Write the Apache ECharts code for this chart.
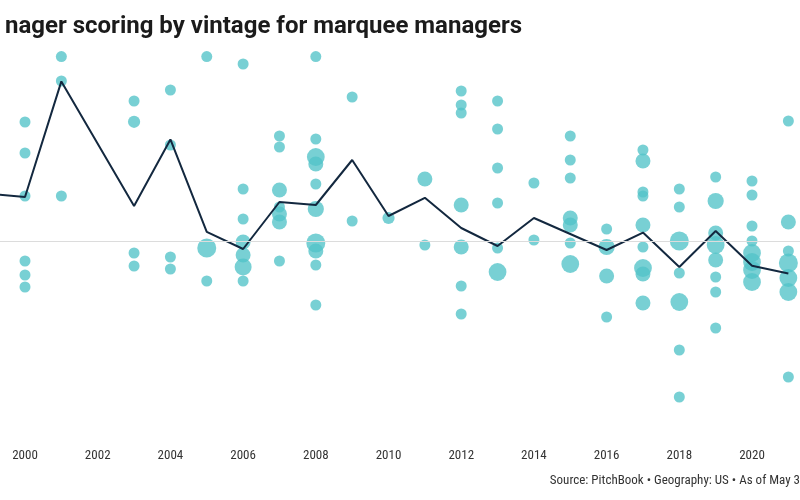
<!DOCTYPE html>
<html>
<head>
<meta charset="utf-8">
<script src="https://cdn.jsdelivr.net/npm/echarts@6/dist/echarts.min.js"></script>
<style>
html,body{margin:0;padding:0;background:#fff;}
#chart{width:800px;height:500px;}
</style>
</head>
<body>
<div id="chart"></div>
<script>
// ---- Data ----
const titleText = 'nager scoring by vintage for marquee managers';
const sourceText = 'Source: PitchBook \u2022 Geography: US \u2022 As of May 3';

// Median line by vintage (2002 has no value)
const lineYears  = [1999, 2000, 2001, 2003, 2004, 2005, 2006, 2007, 2008, 2009, 2010, 2011, 2012, 2013, 2014, 2015, 2016, 2017, 2018, 2019, 2020, 2021];
const lineValues = [11.8, 11, 39.9, 8.75, 25.4, 2.3, -2, 9.75, 9, 20.25, 6.25, 10.8, 3.25, -1.25, 5.75, 1.75, -2.25, 2.1, -6.5, 2.5, -6.2, -8.1];

// Individual manager scores: vintage, score, relative size weight
const fundYears = [
  2000,2000,2000,2000,2000,2000,
  2001,2001,2001,
  2003,2003,2003,2003,
  2004,2004,2004,2004,
  2005,2005,2005,
  2006,2006,2006,2006,2006,2006,2006,
  2007,2007,2007,2007,2007,2007,2007,
  2008,2008,2008,2008,2008,2008,2008,2008,2008,2008,
  2009,2009,
  2010,
  2011,2011,
  2012,2012,2012,2012,2012,2012,2012,
  2013,2013,2013,2013,2013,2013,
  2014,2014,
  2015,2015,2015,2015,2015,2015,2015,
  2016,2016,2016,2016,
  2017,2017,2017,2017,2017,2017,2017,2017,2017,
  2018,2018,2018,2018,2018,2018,2018,
  2019,2019,2019,2019,2019,2019,2019,2019,
  2020,2020,2020,2020,2020,2020,2020,2020,
  2021,2021,2021,2021,2021,2021,2021
];
const fundScores = [
  29.75,22,11.25,-5,-8.5,-11.5,
  46.1,40,11.25,
  35,29.8,-3,-6.25,
  37.75,24,-4,-7,
  46.1,-1.75,-10,
  44.25,13,5.5,-0.25,-3.5,-6.5,-10,
  26.25,23.5,12.75,8.5,6.75,4.75,-5,
  46.1,25.5,21,19.25,14.25,8,-0.5,-2.5,-6,-16,
  36,5,
  5.75,
  15.5,-1,
  37.5,34,32,9,-1.5,-11.25,-18.25,
  35,28,18.25,9.5,-1.75,-7.75,
  14.5,0.25,
  26.25,20.25,15.75,5.75,4,-0.5,-5.75,
  3,-1.5,-8.75,-19,
  22.75,20,12.25,11.25,4,-1.5,-6.75,-8.25,-15.5,
  13,8.5,0,-8,-15.25,-27.25,-39,
  16,10,2,-1,-4.75,-9,-12.75,-21.75,
  15,11.5,3.75,0,-3,-5.25,-7.25,-10.25,
  30,4.75,-2.5,-5.5,-9.25,-12.75,-34
];
const fundWeights = [
  1,1,1,1,1,1,
  1,1,1,
  1,1.3,1,1,
  1,1,1,1,
  1,3,1,
  1,1,1,2,2,2.5,1,
  1,1,2,1,2,2,1,
  1,1,2.7,2,1,2.3,3,2,1,1,
  1,1,
  1.3,
  2,1,
  1,1,1,2,2,1,1,
  1,1,1,1,1,2.7,
  1,1,
  1,1,1,2,2,1,2.7,
  1,2.3,2,1,
  1,2,1,1,2,1,2.7,2,2,
  1,1,3,1,2.7,1,1,
  1,2.3,2,2.7,2,1,1,1,
  1,1,1,1,2.7,2.7,2.7,2.7,
  1,2,1,3,2.7,2.7,1
];

const xTicks = [2000, 2002, 2004, 2006, 2008, 2010, 2012, 2014, 2016, 2018, 2020];

// ---- Build series data ----
const scatterData = fundYears.map((y, i) => [y, fundScores[i], fundWeights[i]]);
const lineData = lineYears.map((y, i) => [y, lineValues[i]]);

const condensed = "'Roboto Condensed', 'Liberation Sans Narrow', 'DejaVu Sans Condensed', Roboto, sans-serif";

const chart = echarts.init(document.getElementById('chart'), null, {renderer: 'canvas'});
chart.setOption({
  backgroundColor: '#ffffff',
  animation: false,
  title: {
    text: titleText,
    left: 0,
    top: 10,
    textStyle: {fontFamily: 'Roboto, sans-serif', fontSize: 24, fontWeight: 'bold', color: '#1b1b1b'}
  },
  graphic: [{
    type: 'text',
    right: 0,
    top: 474,
    style: {text: sourceText, font: "13px " + condensed, fill: '#333333', textAlign: 'right'}
  }],
  grid: {left: 0, right: 0, top: 41, height: 400, containLabel: false},
  xAxis: {
    type: 'value',
    min: 1999.312, max: 2021.32,
    axisLine: {show: false}, axisTick: {show: false}, splitLine: {show: false},
    axisLabel: {
      color: '#333333', fontSize: 13, fontFamily: condensed, margin: 8,
      customValues: xTicks,
      formatter: v => String(v)
    }
  },
  yAxis: {
    type: 'value', min: -50, max: 50,
    show: false, splitLine: {show: false}
  },
  series: [
    {
      type: 'scatter',
      data: scatterData,
      symbolSize: d => 7 + d[2] * 4,
      itemStyle: {color: '#52c3c8', opacity: 0.78},
      z: 2,
      markLine: {
        silent: true, symbol: 'none', label: {show: false},
        lineStyle: {color: '#dcdcdc', width: 1, type: 'solid'},
        data: [{yAxis: 0}]
      }
    },
    {
      type: 'line',
      data: lineData,
      symbol: 'none',
      clip: true,
      lineStyle: {color: '#13283f', width: 2},
      z: 3
    }
  ]
});
</script>
</body>
</html>
